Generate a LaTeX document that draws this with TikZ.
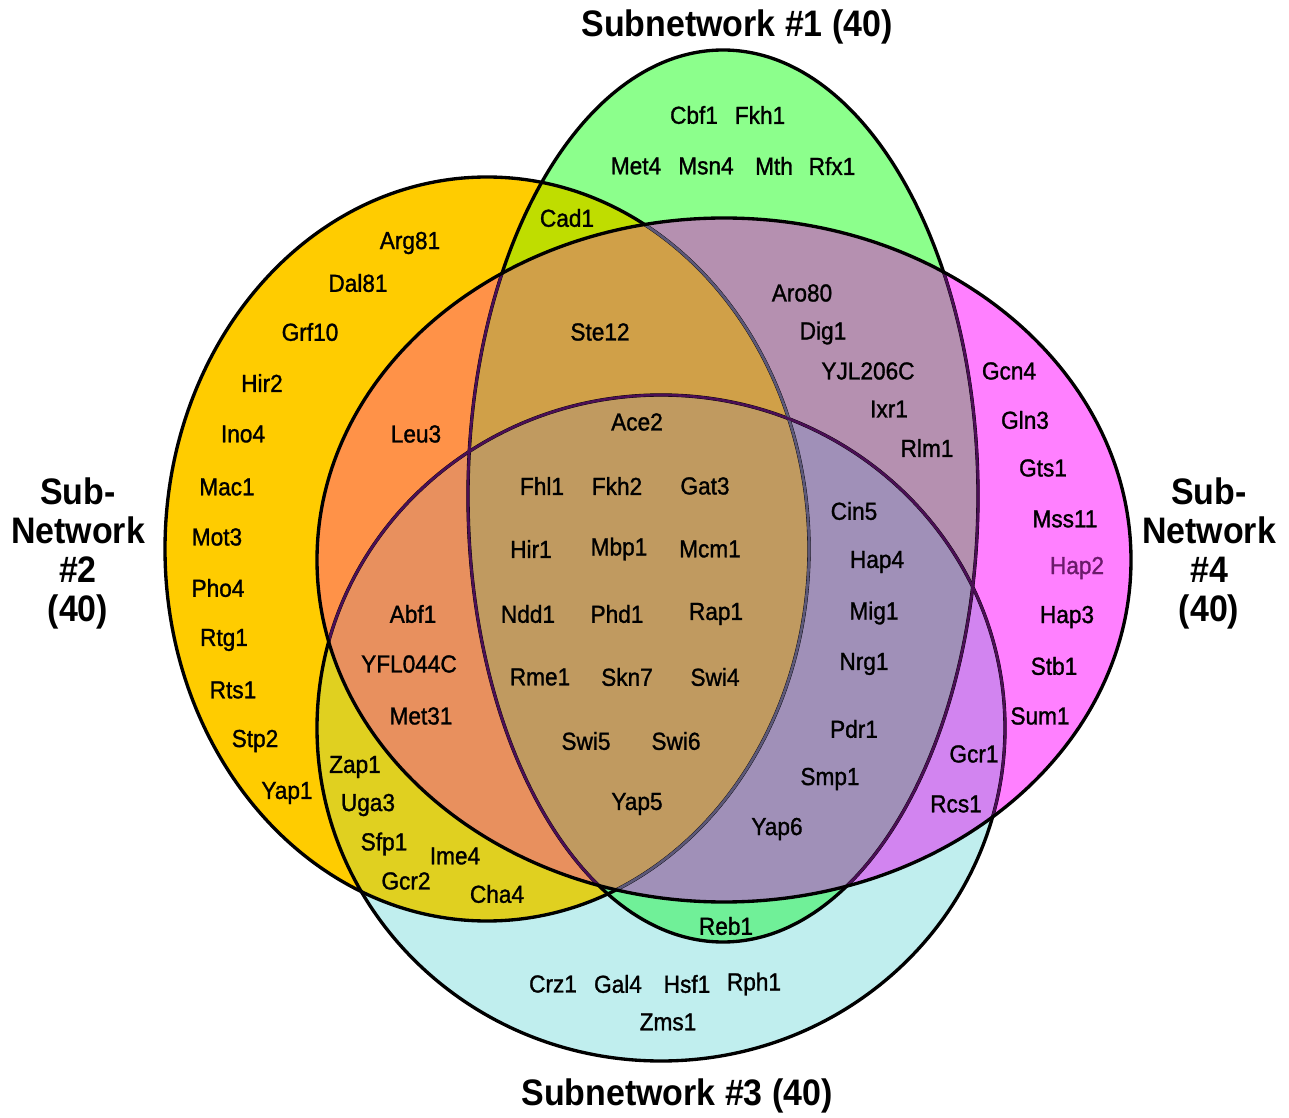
\documentclass[tikz,border=0pt]{standalone}
\usepackage{fontspec}
\setmainfont{Liberation Sans}[FakeStretch=0.92]
\newfontfamily\genefont{Liberation Sans}[FakeStretch=0.92, FakeBold=1.2]
\usepackage{xcolor}
\usepackage{tikz}
\definecolor{yel}{HTML}{FFCC00}
\definecolor{grn}{HTML}{8CFF8C}
\definecolor{mag}{HTML}{FF80FF}
\definecolor{cya}{HTML}{C0EEEE}
\definecolor{yg}{HTML}{BFDD00}
\definecolor{ym}{HTML}{FF9248}
\definecolor{gm}{HTML}{B590B0}
\definecolor{mc}{HTML}{D284F0}
\definecolor{gc}{HTML}{70F098}
\definecolor{yc}{HTML}{E0D020}
\definecolor{ygm}{HTML}{D0A048}
\definecolor{ymc}{HTML}{E8905E}
\definecolor{gmc}{HTML}{A090B8}
\definecolor{ygmc}{HTML}{C09A60}
\definecolor{lineP}{HTML}{4B0F55}
\definecolor{lineG}{HTML}{5C5878}
\definecolor{hapcol}{HTML}{6A1A6A}
\tikzset{
  outline/.style={draw=black, line width=1.9pt},
  inner/.style={draw=lineP, line width=1.5pt},
  innerg/.style={draw=lineG, line width=1.5pt},
  gene/.style={text=black, font=\genefont\fontsize{14}{16}\selectfont, inner sep=0pt},
  title/.style={text=black, font=\bfseries\fontsize{21}{22.2}\selectfont, align=center, inner sep=0pt},
}
\newcommand{\vennY}{(487,549) ellipse [x radius=322, y radius=372]}
\newcommand{\vennG}{(723,496) ellipse [x radius=255, y radius=446]}
\newcommand{\vennM}{(724,560) ellipse [x radius=407, y radius=342]}
\newcommand{\vennC}{(661,728) ellipse [x radius=344, y radius=333]}

\begin{document}
\begin{tikzpicture}[x=0.02cm, y=-0.02cm]
  \useasboundingbox (0,0) rectangle (1289,1118);

  % single sets
  \fill[yel] \vennY;
  \fill[grn] \vennG;
  \fill[mag] \vennM;
  \fill[cya] \vennC;

  % pairs
  \begin{scope} \clip \vennY; \fill[yg] \vennG; \end{scope}
  \begin{scope} \clip \vennY; \fill[ym] \vennM; \end{scope}
  \begin{scope} \clip \vennY; \fill[yc] \vennC; \end{scope}
  \begin{scope} \clip \vennG; \fill[gm] \vennM; \end{scope}
  \begin{scope} \clip \vennG; \fill[gc] \vennC; \end{scope}
  \begin{scope} \clip \vennM; \fill[mc] \vennC; \end{scope}

  % triples
  \begin{scope} \clip \vennY; \clip \vennG; \fill[ygm] \vennM; \end{scope}
  \begin{scope} \clip \vennY; \clip \vennM; \fill[ymc] \vennC; \end{scope}
  \begin{scope} \clip \vennG; \clip \vennM; \fill[gmc] \vennC; \end{scope}

  % all four
  \begin{scope} \clip \vennY; \clip \vennG; \clip \vennM; \fill[ygmc] \vennC; \end{scope}

  % outlines
  \draw[outline] \vennY;
  \draw[outline] \vennG;
  \draw[outline] \vennC;
  \begin{scope}
    \clip \vennM;
    \draw[innerg] \vennY;
    \draw[inner] \vennG;
    \draw[inner] \vennC;
  \end{scope}
  \draw[outline] \vennM;

  % titles
  \node[title] (t1) at (737,27) {Subnetwork \#1 (40)};
  \node[title] (t3) at (677,1096) {Subnetwork \#3 (40)};
  \node[title] (t2) at (78,553) {Sub-\\Network\\\#2\\(40)};
  \node[title] (t4) at (1209,553) {Sub-\\Network\\\#4\\(40)};

  % subnetwork 1 only
  \node[gene] (cbf1) at (694,115) {Cbf1};
  \node[gene] (fkh1) at (760,115) {Fkh1};
  \node[gene] (met4) at (636,166) {Met4};
  \node[gene] (msn4) at (706,166) {Msn4};
  \node[gene] (mth) at (774,166) {Mth};
  \node[gene] (rfx1) at (832,166) {Rfx1};
  \node[gene] (cad1) at (567,218) {Cad1};

  % subnetwork 2 only
  \node[gene] (arg81) at (410,243) {Arg81};
  \node[gene] (dal81) at (358,283) {Dal81};
  \node[gene] (grf10) at (310,332) {Grf10};
  \node[gene] (hir2) at (262,383) {Hir2};
  \node[gene] (ino4) at (243,434) {Ino4};
  \node[gene] (mac1) at (227,487) {Mac1};
  \node[gene] (mot3) at (217,537) {Mot3};
  \node[gene] (pho4) at (218,588) {Pho4};
  \node[gene] (rtg1) at (224,640) {Rtg1};
  \node[gene] (rts1) at (233,690) {Rts1};
  \node[gene] (stp2) at (255,741) {Stp2};
  \node[gene] (yap1) at (287,793) {Yap1};

  \node[gene] (leu3) at (416,434) {Leu3};
  \node[gene] (ste12) at (600,332) {Ste12};

  \node[gene] (aro80) at (802,293) {Aro80};
  \node[gene] (dig1) at (823,333) {Dig1};
  \node[gene] (yjl206c) at (868,371) {YJL206C};
  \node[gene] (ixr1) at (889,409) {Ixr1};
  \node[gene] (rlm1) at (927,448) {Rlm1};

  % subnetwork 4 only
  \node[gene] (gcn4) at (1009,371) {Gcn4};
  \node[gene] (gln3) at (1025,420) {Gln3};
  \node[gene] (gts1) at (1043,468) {Gts1};
  \node[gene] (mss11) at (1065,519) {Mss11};
  \node[gene, text=hapcol] (hap2) at (1077,568) {Hap2};
  \node[gene] (hap3) at (1067,617) {Hap3};
  \node[gene] (stb1) at (1054,666) {Stb1};
  \node[gene] (sum1) at (1040,716) {Sum1};

  \node[gene] (gcr1) at (974,754) {Gcr1};
  \node[gene] (rcs1) at (956,804) {Rcs1};

  % shared by all
  \node[gene] (ace2) at (637,422) {Ace2};
  \node[gene] (fhl1) at (542,486) {Fhl1};
  \node[gene] (fkh2) at (617,486) {Fkh2};
  \node[gene] (gat3) at (705,486) {Gat3};
  \node[gene] (hir1) at (531,549) {Hir1};
  \node[gene] (mbp1) at (619,549) {Mbp1};
  \node[gene] (mcm1) at (710,549) {Mcm1};
  \node[gene] (ndd1) at (528,614) {Ndd1};
  \node[gene] (phd1) at (617,614) {Phd1};
  \node[gene] (rap1) at (716,614) {Rap1};
  \node[gene] (rme1) at (540,677) {Rme1};
  \node[gene] (skn7) at (627,677) {Skn7};
  \node[gene] (swi4) at (715,677) {Swi4};
  \node[gene] (swi5) at (586,741) {Swi5};
  \node[gene] (swi6) at (676,741) {Swi6};
  \node[gene] (yap5) at (637,804) {Yap5};

  \node[gene] (cin5) at (854,511) {Cin5};
  \node[gene] (hap4) at (877,562) {Hap4};
  \node[gene] (mig1) at (874,613) {Mig1};
  \node[gene] (nrg1) at (864,664) {Nrg1};
  \node[gene] (pdr1) at (854,729) {Pdr1};
  \node[gene] (smp1) at (830,779) {Smp1};
  \node[gene] (yap6) at (777,829) {Yap6};

  \node[gene] (abf1) at (413,614) {Abf1};
  \node[gene] (yfl044c) at (409,664) {YFL044C};
  \node[gene] (met31) at (421,716) {Met31};

  \node[gene] (zap1) at (355,767) {Zap1};
  \node[gene] (uga3) at (368,805) {Uga3};
  \node[gene] (sfp1) at (384,844) {Sfp1};
  \node[gene] (ime4) at (455,856) {Ime4};
  \node[gene] (gcr2) at (406,881) {Gcr2};
  \node[gene] (cha4) at (497,894) {Cha4};

  \node[gene] (reb1) at (726,926) {Reb1};

  % subnetwork 3 only
  \node[gene] (crz1) at (553,984) {Crz1};
  \node[gene] (gal4) at (618,984) {Gal4};
  \node[gene] (hsf1) at (687,984) {Hsf1};
  \node[gene] (rph1) at (754,984) {Rph1};
  \node[gene] (zms1) at (668,1022) {Zms1};
\end{tikzpicture}
\end{document}
